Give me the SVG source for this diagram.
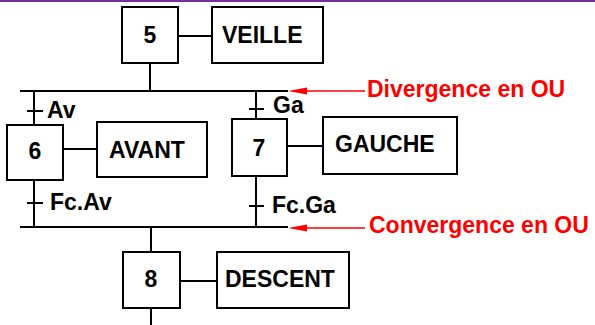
<svg xmlns="http://www.w3.org/2000/svg" width="595" height="325" viewBox="0 0 595 325">
<style>
.box{fill:#fff;stroke:#000;stroke-width:2}
.ln{stroke:#000;stroke-width:2;fill:none}
.t{font-family:"Liberation Sans",Arial,sans-serif;font-size:23px;font-weight:bold;fill:#000}
.m{text-anchor:middle}
.red{font-family:"Liberation Sans",Arial,sans-serif;font-size:23px;font-weight:bold;fill:#ff0000}
.rl{stroke:#ff0000;stroke-width:1.5}
</style>
<rect x="0" y="0" width="595" height="325" fill="#fff"/>
<rect x="0" y="0" width="595" height="2" fill="#7030a0"/>
<g id="connectors">
<line class="ln" x1="150" y1="63" x2="150" y2="91"/>
<line class="ln" x1="20" y1="91" x2="288" y2="91"/>
<line class="ln" x1="34" y1="91" x2="34" y2="125"/>
<line class="ln" x1="27" y1="111" x2="43" y2="111"/>
<line class="ln" x1="256" y1="91" x2="256" y2="119"/>
<line class="ln" x1="249" y1="109" x2="264" y2="109"/>
<line class="ln" x1="34" y1="180" x2="34" y2="227"/>
<line class="ln" x1="27" y1="203" x2="43" y2="203"/>
<line class="ln" x1="256" y1="176" x2="256" y2="227"/>
<line class="ln" x1="249" y1="206" x2="264" y2="206"/>
<line class="ln" x1="20" y1="227" x2="288" y2="227"/>
<line class="ln" x1="151" y1="227" x2="151" y2="252"/>
<line class="ln" x1="151" y1="308" x2="151" y2="325"/>
<line class="ln" x1="178" y1="36" x2="212" y2="36"/>
<line class="ln" x1="63" y1="149" x2="97" y2="149"/>
<line class="ln" x1="287" y1="146" x2="323" y2="146"/>
<line class="ln" x1="180" y1="281" x2="217" y2="281"/>
<text class="t" x="47" y="118">Av</text>
<text class="t" x="273" y="113">Ga</text>
<text class="t" x="50" y="210">Fc.Av</text>
<text class="t" x="272" y="213">Fc.Ga</text>
</g>
<g id="step5"><rect class="box" x="122" y="7" width="56" height="56"/><text class="t m" x="150" y="43">5</text></g>
<g id="veille"><rect class="box" x="212" y="7" width="111" height="56"/><text class="t" x="222" y="43">VEILLE</text></g>
<g id="step6"><rect class="box" x="7" y="125" width="56" height="55"/><text class="t m" x="35" y="159">6</text></g>
<g id="avant"><rect class="box" x="97" y="122" width="110" height="55"/><text class="t" x="109" y="158">AVANT</text></g>
<g id="step7"><rect class="box" x="232" y="119" width="55" height="57"/><text class="t m" x="259" y="156">7</text></g>
<g id="gauche"><rect class="box" x="323" y="117" width="134" height="57"/><text class="t" x="335" y="152">GAUCHE</text></g>
<g id="step8"><rect class="box" x="123" y="252" width="57" height="56"/><text class="t m" x="151" y="287">8</text></g>
<g id="descent"><rect class="box" x="217" y="252" width="132" height="56"/><text class="t" x="225" y="287">DESCENT</text></g>
<g id="div-label">
<line class="rl" x1="300" y1="91" x2="365" y2="91"/>
<polygon points="288,91 307,87.5 307,94.5" fill="#ff0000"/>
<text class="red" x="367" y="97">Divergence en OU</text>
</g>
<g id="conv-label">
<line class="rl" x1="300" y1="228" x2="365" y2="228"/>
<polygon points="288,228 307,224.5 307,231.5" fill="#ff0000"/>
<text class="red" x="369" y="233">Convergence en OU</text>
</g>
</svg>
